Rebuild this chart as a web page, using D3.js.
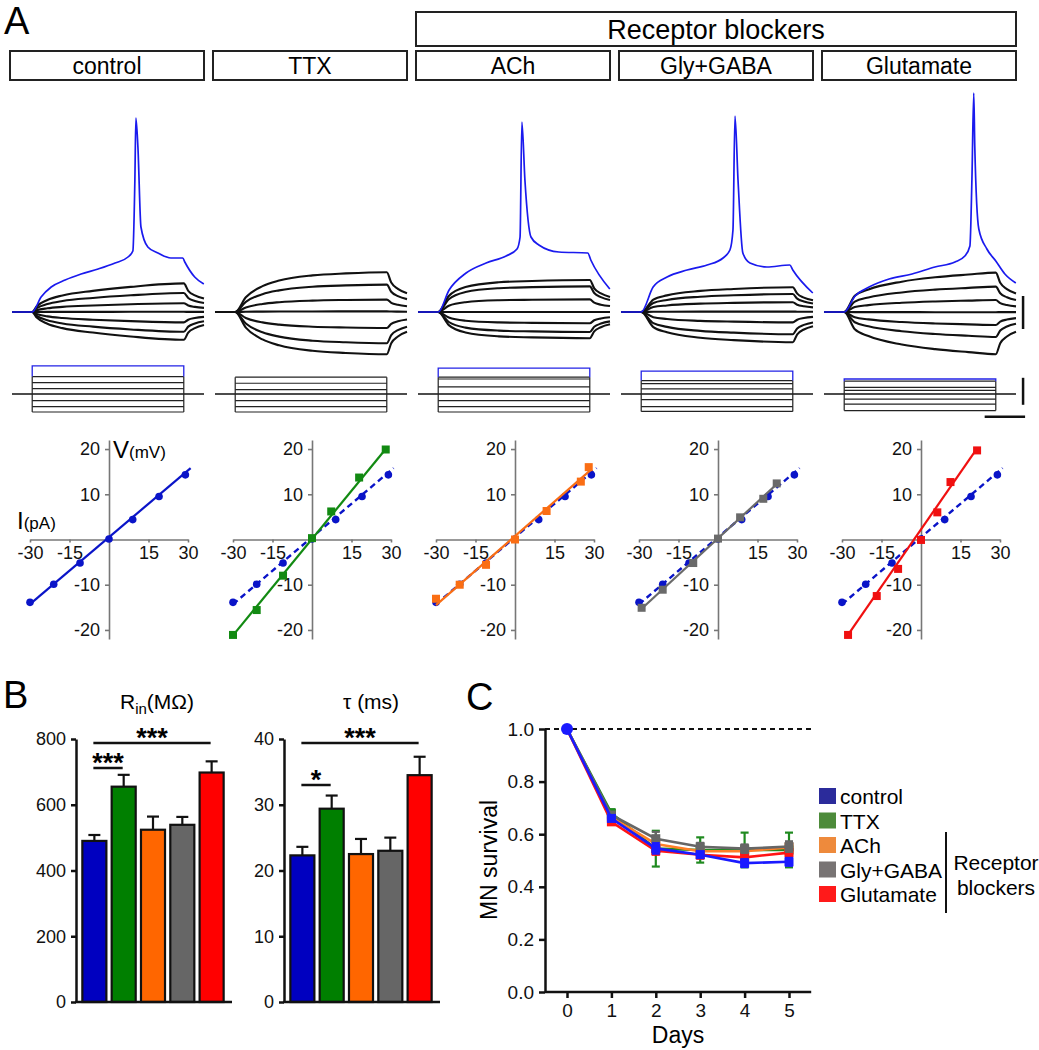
<!DOCTYPE html>
<html>
<head>
<meta charset="utf-8">
<script src="https://cdn.jsdelivr.net/npm/d3@7"></script>
<style>
  body { margin: 0; background: #fff; }
  svg { font-family: "Liberation Sans", Arial, sans-serif; }
</style>
</head>
<body>
<svg id="fig" width="1039" height="1050"></svg>
<script>
// ---------- data ----------
var conditions = ["control", "TTX", "ACh", "Gly+GABA", "Glutamate"];
var ivColors = ["#0a14c8", "#128a12", "#fa6e14", "#6a6a6a", "#f01010"];
var barColors = ["#0000c0", "#007f00", "#ff6600", "#666666", "#ff0000"];

// I-V points (pA, mV)
var ctrlI = [-30, -21, -11, 0, 9, 19, 29];
var ctrlV = [-13.9, -9.9, -5.2, 0.1, 4.4, 9.5, 14.3];
var ttxI = [-30, -21, -11, 0, 7.3, 17.9, 28];
var ttxV = [-21.1, -15.6, -8, 0.3, 6.2, 13.7, 19.9];
var achI = [-30, -21, -11, 0, 12, 25, 28];
var achV = [-13.1, -10, -5.6, 0, 6.3, 12.8, 16];
var glyI = [-29, -21, -9.4, 0, 8.4, 17.2, 22.3];
var glyV = [-15.1, -11.1, -5.2, 0.2, 4.9, 9, 12.4];
var gluI = [-27.7, -16.8, -8.7, 0, 6.2, 11.2, 21.3];
var gluV = [-21.1, -12.5, -6.5, -0.1, 6, 12.7, 19.7];

// fitted lines, end points (pA, mV)
var ctrlFit = [[-30, -14.3], [31, 15.8]];
var ttxFit = [[-30, -21.2], [28, 20]];
var achFit = [[-30, -14.5], [29, 15.5]];
var glyFit = [[-29, -15.3], [23, 12.6]];
var gluFit = [[-28, -21.3], [21.5, 20.3]];

// charging shape of the voltage traces (fraction of step, fraction of final value)
var ctrlShape = [[0, 0], [0.03, 0.2], [0.1, 0.42], [0.2, 0.58], [0.4, 0.74], [0.65, 0.88], [1, 1]];
var ttxShape = [[0, 0], [0.07, 0.37], [0.18, 0.65], [0.29, 0.79], [0.51, 0.92], [0.73, 0.97], [1, 1]];
var achShape = [[0, 0], [0.07, 0.5], [0.18, 0.78], [0.4, 0.93], [0.62, 0.97], [1, 1]];
var glyShape = [[0, 0], [0.08, 0.5], [0.17, 0.67], [0.39, 0.85], [0.61, 0.93], [1, 1]];
var gluShape = [[0, 0], [0.07, 0.41], [0.16, 0.57], [0.38, 0.77], [0.6, 0.88], [0.82, 0.95], [1, 1]];
// relaxation after the step (fraction of 100 ms, fraction of final value)
var decayShape = [[0, 1], [0.22, 0.74], [0.55, 0.58], [1, 0.47]];

// suprathreshold (blue) traces, (ms, mV)
var ctrlSpike = [[0, 0], [44, 7.5], [94, 12.5], [163, 16], [242, 19], [326, 21.5], [410, 24.5], [474, 27.5],
  [498, 30.5], [508, 66], [513, 97], [523, 82.5], [538, 42.5], [572, 32.5], [622, 29.5], [686, 27],
  [745, 27], [755, 25], [804, 17.5], [849, 14]];
var achSpike = [[0, 0], [54, 11], [138, 19.5], [237, 24.5], [336, 28], [390, 31.5], [405, 37.5], [414, 95],
  [429, 66], [459, 37.5], [498, 33.5], [597, 30], [740, 29.5], [755, 26], [849, 11.5]];
var glySpike = [[0, 0], [59, 12.5], [128, 17.5], [227, 21], [326, 23.5], [405, 27], [439, 31], [454, 41],
  [464, 98], [479, 66], [503, 29.5], [538, 24.5], [622, 22.5], [735, 23.5], [750, 21], [849, 9.5]];
var gluSpike = [[0, 0], [54, 8], [123, 12.5], [222, 16.5], [336, 19], [449, 22.5], [548, 25], [597, 28],
  [622, 33], [632, 66.5], [641, 109.5], [646, 83], [666, 41.5], [706, 31.5], [750, 25.5], [795, 19], [849, 14.5]];
var spikeCurrent = [47, null, 43, 38, 25];

// panel B
var rinMean = [490, 655, 524, 539, 698];
var rinSem = [18, 36, 40, 24, 34];
var tauMean = [22.3, 29.4, 22.5, 23.0, 34.5];
var tauSem = [1.3, 2.0, 2.3, 2.0, 2.8];

// panel C
var days = [0, 1, 2, 3, 4, 5];
var survControl = [1, 0.66, 0.546, 0.522, 0.49, 0.495];
var survTTX = [1, 0.68, 0.545, 0.54, 0.54, 0.54];
var survACh = [1, 0.665, 0.563, 0.535, 0.535, 0.55];
var survGly = [1, 0.673, 0.583, 0.552, 0.545, 0.553];
var survGlu = [1, 0.647, 0.537, 0.522, 0.512, 0.53];
var semControl = [0, 0.01, 0.02, 0.012, 0.015, 0.015];
var semTTX = [0, 0.015, 0.068, 0.048, 0.066, 0.066];
var semACh = [0, 0.01, 0.02, 0.012, 0.012, 0.02];
var semGly = [0, 0.01, 0.026, 0.015, 0.016, 0.02];
var semGlu = [0, 0.01, 0.015, 0.015, 0.015, 0.02];
var lineColors = ["#1a1aff", "#1f8a1f", "#ff7f27", "#666666", "#ff1414"];
var legendColors = ["#2b2b9b", "#4d8b3a", "#ee8a3c", "#787474", "#ff1a1a"];

// ---------- setup ----------
var svg = d3.select("#fig");
var FONT = '"Liberation Sans", Arial, sans-serif';

var ivSets = [
  { I: ctrlI, V: ctrlV, fit: ctrlFit, shape: ctrlShape, spike: ctrlSpike },
  { I: ttxI, V: ttxV, fit: ttxFit, shape: ttxShape, spike: null },
  { I: achI, V: achV, fit: achFit, shape: achShape, spike: achSpike },
  { I: glyI, V: glyV, fit: glyFit, shape: glyShape, spike: glySpike },
  { I: gluI, V: gluV, fit: gluFit, shape: gluShape, spike: gluSpike }
];

// columns of panel A
var col = d3.scaleBand().domain(conditions).range([10, 1016]).paddingInner(0.0443);

// panel letters
[["A", 4, 34], ["B", 3, 708], ["C", 466, 710]].forEach(function(l) {
  svg.append("text").attr("x", l[1]).attr("y", l[2]).attr("font-size", 38).text(l[0]);
});

// ---------- header boxes ----------
svg.append("rect")
  .attr("x", col("ACh")).attr("y", 12)
  .attr("width", col("Glutamate") + col.bandwidth() - col("ACh")).attr("height", 34)
  .attr("fill", "none").attr("stroke", "#222").attr("stroke-width", 2);
svg.append("text")
  .attr("x", (col("ACh") + col("Glutamate") + col.bandwidth()) / 2).attr("y", 39)
  .attr("text-anchor", "middle").attr("font-size", 27).text("Receptor blockers");

conditions.forEach(function(c) {
  svg.append("rect").attr("x", col(c)).attr("y", 51).attr("width", col.bandwidth()).attr("height", 29)
    .attr("fill", "none").attr("stroke", "#222").attr("stroke-width", 2);
  svg.append("text").attr("x", col(c) + col.bandwidth() / 2).attr("y", 74)
    .attr("text-anchor", "middle").attr("font-size", 23).text(c);
});

// ---------- traces ----------
function tracePoints(v, shape) {
  var pts = [[-100, 0], [0, 0]];
  shape.forEach(function(p) { if (p[0] > 0) pts.push([p[0] * 750, v * p[1]]); });
  decayShape.forEach(function(p) { if (p[0] > 0) pts.push([750 + p[0] * 100, v * p[1]]); });
  return pts;
}

var vScale = d3.scaleLinear().domain([0, 100]).range([312, 112]);
var iScale = d3.scaleLinear().domain([0, 50]).range([394, 364]);

ivSets.forEach(function(s, i) {
  var left = col(conditions[i]);
  var t = d3.scaleLinear().domain([-100, 850]).range([left + 2, left + 194]);
  var line = d3.line().x(function(d) { return t(d[0]); }).y(function(d) { return vScale(d[1]); })
    .curve(d3.curveMonotoneX);
  var g = svg.append("g");

  s.V.forEach(function(v) {
    g.append("path").attr("d", line(tracePoints(v, s.shape)))
      .attr("fill", "none").attr("stroke", "#111").attr("stroke-width", 2.1);
  });
  if (s.spike) {
    var sp = s.spike.slice();
    sp.unshift([-100, 0]);
    g.append("path").attr("d", line(sp))
      .attr("fill", "none").attr("stroke", "#1a1aee").attr("stroke-width", 1.7);
  }

  // current steps
  var iMax = d3.max(s.I), iMin = d3.min(s.I);
  g.append("line").attr("x1", t(-100)).attr("x2", t(850))
    .attr("y1", iScale(0)).attr("y2", iScale(0)).attr("stroke", "#111").attr("stroke-width", 1.4);
  s.I.forEach(function(c) {
    if (c === 0) return;
    g.append("line").attr("x1", t(0)).attr("x2", t(750))
      .attr("y1", iScale(c)).attr("y2", iScale(c)).attr("stroke", "#222").attr("stroke-width", 1.2);
  });
  [0, 750].forEach(function(tt) {
    g.append("line").attr("x1", t(tt)).attr("x2", t(tt))
      .attr("y1", iScale(iMin)).attr("y2", iScale(iMax)).attr("stroke", "#222").attr("stroke-width", 1.2);
  });
  if (spikeCurrent[i] !== null) {
    var b = spikeCurrent[i];
    g.append("path")
      .attr("d", d3.line()([[t(0), iScale(iMax)], [t(0), iScale(b)], [t(750), iScale(b)], [t(750), iScale(iMax)]]))
      .attr("fill", "none").attr("stroke", "#2323e6").attr("stroke-width", 1.3);
  }

  // scale bars on the last column
  if (i === 4) {
    g.append("line").attr("x1", t(885)).attr("x2", t(885))
      .attr("y1", vScale(-8.5)).attr("y2", vScale(8)).attr("stroke", "#111").attr("stroke-width", 2.5);
    g.append("line").attr("x1", t(885)).attr("x2", t(885))
      .attr("y1", iScale(-18)).attr("y2", iScale(27)).attr("stroke", "#111").attr("stroke-width", 2.5);
    g.append("line").attr("x1", t(695)).attr("x2", t(895))
      .attr("y1", iScale(-38)).attr("y2", iScale(-38)).attr("stroke", "#111").attr("stroke-width", 2.5);
  }
});

// ---------- I-V plots ----------
ivSets.forEach(function(s, i) {
  var cx = col(conditions[i]) + 99;
  var x = d3.scaleLinear().domain([-30, 30]).range([cx - 79, cx + 79]);
  var y = d3.scaleLinear().domain([-22, 22]).range([639, 440]);
  var g = svg.append("g");

  var xa = g.append("g").attr("transform", "translate(0," + y(0) + ")")
    .call(d3.axisBottom(x).tickValues([-30, -15, 15, 30]).tickFormat(String)
      .tickSize(3).tickPadding(4).tickSizeOuter(0));
  var ya = g.append("g").attr("transform", "translate(" + x(0) + ",0)")
    .call(d3.axisLeft(y).tickValues([-20, -10, 10, 20]).tickFormat(String)
      .tickSize(4).tickPadding(5).tickSizeOuter(0));
  [xa, ya].forEach(function(a) {
    a.attr("font-family", FONT).attr("font-size", 18);
    a.selectAll("path, line").attr("stroke", "#777").attr("stroke-width", 1.6);
    a.selectAll("text").attr("fill", "#111");
  });

  var fl = d3.line().x(function(d) { return x(d[0]); }).y(function(d) { return y(d[1]); });

  // control reference (dashed) on the other panels
  if (i > 0) {
    g.append("path").attr("d", fl(ctrlFit)).attr("fill", "none")
      .attr("stroke", ivColors[0]).attr("stroke-width", 2.4).attr("stroke-dasharray", "6,4");
    g.selectAll(".ref").data(d3.zip(ctrlI, ctrlV)).enter().append("circle")
      .attr("cx", function(d) { return x(d[0]); }).attr("cy", function(d) { return y(d[1]); })
      .attr("r", 3.8).attr("fill", ivColors[0]);
  }
  g.append("path").attr("d", fl(s.fit)).attr("fill", "none")
    .attr("stroke", ivColors[i]).attr("stroke-width", 2.2);
  var pts = d3.zip(s.I, s.V);
  if (i === 0) {
    g.selectAll(".pt").data(pts).enter().append("circle")
      .attr("cx", function(d) { return x(d[0]); }).attr("cy", function(d) { return y(d[1]); })
      .attr("r", 3.8).attr("fill", ivColors[0]);
  } else {
    g.selectAll(".pt").data(pts).enter().append("rect")
      .attr("x", function(d) { return x(d[0]) - 4; }).attr("y", function(d) { return y(d[1]) - 4; })
      .attr("width", 8).attr("height", 8).attr("fill", ivColors[i]);
  }

  if (i === 0) {
    var vl = g.append("text").attr("x", x(0) + 4).attr("y", 458);
    vl.append("tspan").attr("font-size", 24).text("V");
    vl.append("tspan").attr("font-size", 17).text("(mV)");
    var il = g.append("text").attr("x", x(-30) - 13).attr("y", 529);
    il.append("tspan").attr("font-size", 24).text("I");
    il.append("tspan").attr("font-size", 17).text("(pA)");
  }
});

// ---------- panel B ----------
function barChart(x0, means, sems, maxV, tickVals, sig) {
  var x = d3.scaleBand().domain(conditions).range([x0 + 4, x0 + 150]).paddingInner(0.18).paddingOuter(0.08);
  var y = d3.scaleLinear().domain([0, maxV]).range([1002, 739]);
  var g = svg.append("g");

  g.selectAll(".bar").data(means).enter().append("rect")
    .attr("x", function(d, i) { return x(conditions[i]); })
    .attr("y", function(d) { return y(d); })
    .attr("width", x.bandwidth())
    .attr("height", function(d) { return y(0) - y(d); })
    .attr("fill", function(d, i) { return barColors[i]; })
    .attr("stroke", "#111").attr("stroke-width", 2.2);

  means.forEach(function(m, i) {
    var cxb = x(conditions[i]) + x.bandwidth() / 2;
    g.append("line").attr("x1", cxb).attr("x2", cxb).attr("y1", y(m)).attr("y2", y(m + sems[i]))
      .attr("stroke", "#111").attr("stroke-width", 2.2);
    g.append("line").attr("x1", cxb - 6).attr("x2", cxb + 6).attr("y1", y(m + sems[i])).attr("y2", y(m + sems[i]))
      .attr("stroke", "#111").attr("stroke-width", 2.2);
  });

  var ya = g.append("g").attr("transform", "translate(" + x0 + ",0)")
    .call(d3.axisLeft(y).tickValues(tickVals).tickSize(5).tickPadding(5).tickSizeOuter(0));
  ya.attr("font-family", FONT).attr("font-size", 18);
  ya.selectAll("path, line").attr("stroke", "#111").attr("stroke-width", 2.5);
  ya.selectAll("text").attr("fill", "#111");
  g.append("line").attr("x1", x0 - 1).attr("x2", x0 + 156).attr("y1", y(0)).attr("y2", y(0))
    .attr("stroke", "#111").attr("stroke-width", 2.5);

  sig.forEach(function(s) {
    var xa = x(conditions[s[0]]) + x.bandwidth() / 2 - 1, xb = x(conditions[s[1]]) + x.bandwidth() / 2 - 1;
    g.append("line").attr("x1", xa).attr("x2", xb).attr("y1", s[2]).attr("y2", s[2])
      .attr("stroke", "#111").attr("stroke-width", 2.5);
    g.append("text").attr("x", (xa + xb) / 2).attr("y", s[2] + 4).attr("text-anchor", "middle")
      .attr("font-size", 27).attr("font-weight", "bold").text(s[3]);
  });
}
barChart(76, rinMean, rinSem, 800, [0, 200, 400, 600, 800], [[0, 4, 743, "***"], [0, 1, 768, "***"]]);
barChart(284, tauMean, tauSem, 40, [0, 10, 20, 30, 40], [[0, 4, 743, "***"], [0, 1, 785, "*"]]);

var rt = svg.append("text").attr("x", 120).attr("y", 709).attr("font-size", 21);
rt.append("tspan").text("R");
rt.append("tspan").attr("dy", 5).attr("font-size", 15).text("in");
rt.append("tspan").attr("dy", -5).text("(M\u03a9)");
svg.append("text").attr("x", 343).attr("y", 709).attr("font-size", 21).text("\u03c4 (ms)");

// ---------- panel C ----------
var cx = d3.scaleLinear().domain([0, 5]).range([567, 789]);
var cy = d3.scaleLinear().domain([0, 1]).range([992, 729]);
var gc = svg.append("g");

gc.append("line").attr("x1", 545).attr("x2", cx(5.5)).attr("y1", cy(1)).attr("y2", cy(1))
  .attr("stroke", "#111").attr("stroke-width", 2).attr("stroke-dasharray", "5,4");

var cxa = gc.append("g").attr("transform", "translate(0," + cy(0) + ")")
  .call(d3.axisBottom(cx).tickValues(days).tickFormat(d3.format("d"))
    .tickSize(6).tickPadding(6).tickSizeOuter(0));
var cya = gc.append("g").attr("transform", "translate(545,0)")
  .call(d3.axisLeft(cy).tickValues([0, 0.2, 0.4, 0.6, 0.8, 1.0]).tickFormat(d3.format(".1f"))
    .tickSize(6).tickPadding(5).tickSizeOuter(0));
cxa.select(".domain").attr("d", "M" + 545 + ",0H" + cx(5.5));
[cxa, cya].forEach(function(a) {
  a.attr("font-family", FONT).attr("font-size", 19);
  a.selectAll("path, line").attr("stroke", "#111").attr("stroke-width", 2.5);
  a.selectAll("text").attr("fill", "#111");
});

gc.append("text").attr("transform", "translate(497,860) rotate(-90)").attr("text-anchor", "middle")
  .attr("font-size", 23).text("MN survival");
gc.append("text").attr("x", cx(2.5)).attr("y", 1043).attr("text-anchor", "middle")
  .attr("font-size", 23).text("Days");

var survSeries = [
  { v: survTTX, e: semTTX, c: lineColors[1] },
  { v: survACh, e: semACh, c: lineColors[2] },
  { v: survGlu, e: semGlu, c: lineColors[4] },
  { v: survGly, e: semGly, c: lineColors[3] },
  { v: survControl, e: semControl, c: lineColors[0] }
];
var sl = d3.line().x(function(d) { return cx(d[0]); }).y(function(d) { return cy(d[1]); });
survSeries.forEach(function(s) {
  var pts = d3.zip(days, s.v, s.e);
  pts.forEach(function(p) {
    if (p[2] <= 0) return;
    gc.append("line").attr("x1", cx(p[0])).attr("x2", cx(p[0]))
      .attr("y1", cy(p[1] - p[2])).attr("y2", cy(p[1] + p[2])).attr("stroke", s.c).attr("stroke-width", 2.2);
    [p[1] - p[2], p[1] + p[2]].forEach(function(v) {
      gc.append("line").attr("x1", cx(p[0]) - 4).attr("x2", cx(p[0]) + 4)
        .attr("y1", cy(v)).attr("y2", cy(v)).attr("stroke", s.c).attr("stroke-width", 2.2);
    });
  });
  gc.append("path").attr("d", sl(pts)).attr("fill", "none").attr("stroke", s.c).attr("stroke-width", 2.6);
  gc.selectAll(null).data(pts.slice(1)).enter().append("rect")
    .attr("x", function(d) { return cx(d[0]) - 4.5; }).attr("y", function(d) { return cy(d[1]) - 4.5; })
    .attr("width", 9).attr("height", 9).attr("fill", s.c);
});
gc.append("circle").attr("cx", cx(0)).attr("cy", cy(survControl[0])).attr("r", 6).attr("fill", lineColors[0]);

// legend
var leg = gc.append("g");
conditions.forEach(function(c, i) {
  var yy = 796 + i * 24.5;
  leg.append("rect").attr("x", 819).attr("y", yy - 8).attr("width", 17).attr("height", 16)
    .attr("fill", legendColors[i]);
  leg.append("text").attr("x", 840).attr("y", yy + 8).attr("font-size", 21).text(c);
});
leg.append("line").attr("x1", 946).attr("x2", 946).attr("y1", 832).attr("y2", 913)
  .attr("stroke", "#111").attr("stroke-width", 2);
leg.append("text").attr("x", 996).attr("y", 870).attr("text-anchor", "middle").attr("font-size", 21).text("Receptor");
leg.append("text").attr("x", 996).attr("y", 895).attr("text-anchor", "middle").attr("font-size", 21).text("blockers");
</script>
</body>
</html>
